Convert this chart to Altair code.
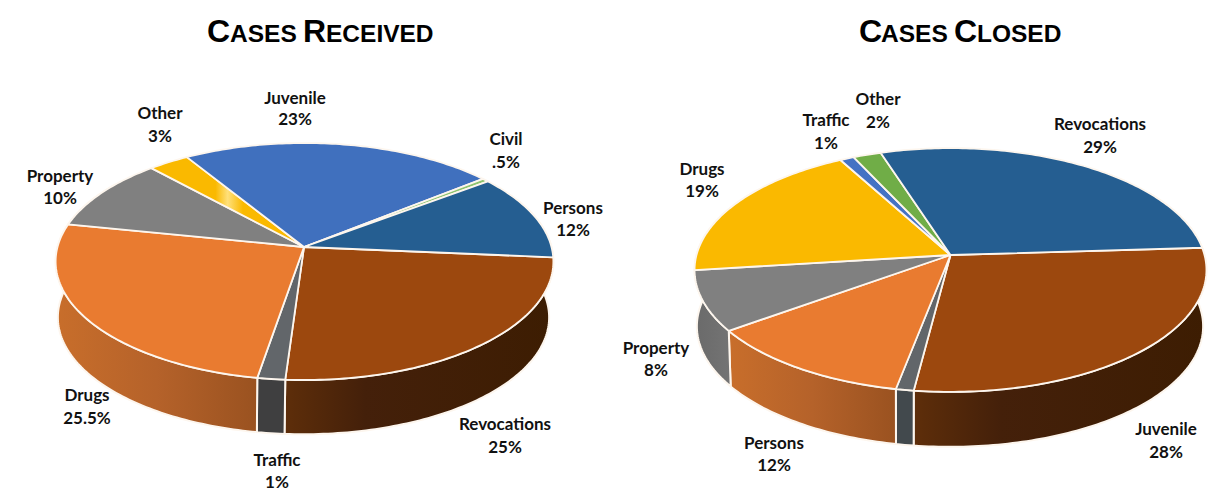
import math
import altair as alt
import pandas as pd

# ---- values ----
left_categories = ["Revocations", "Traffic", "Drugs", "Property", "Other", "Juvenile", "Civil", "Persons"]
left_labels = ["25%", "1%", "25.5%", "10%", "3%", "23%", ".5%", "12%"]
left_values = [24.7, 1.6, 25.5, 10, 3, 23, 0.5, 11.7]
right_categories = ["Juvenile", "", "Persons", "Property", "Drugs", "Traffic", "Other", "Revocations"]
right_labels = ["28%", "", "12%", "8%", "19%", "1%", "2%", "29%"]
right_values = [28, 1, 12, 8, 19, 1, 2, 29]

# ---- styles ----
BROWN, ORANGE, GREY = "#9c480e", "#e97b30", "#808080"
YELLOW, GREEN, BLUE, NAVY = "#fab900", "#70ad47", "#4070be", "#255e91"
left_colors = [BROWN, "#62666a", ORANGE, GREY, YELLOW, BLUE, "#8fc46f", NAVY]
right_colors = [BROWN, "#62666a", ORANGE, GREY, YELLOW, "#4472c4", GREEN, NAVY]
WALL_BROWN = [(0, "#5e2e0a"), (0.3, "#44200a"), (1, "#3d1d02")]
WALL_ORANGE = [(0, "#c86e2b"), (0.5, "#b5622a"), (1, "#9a5220")]
WALL_GREY = [(0, "#6a6a6a"), (1, "#7b7b7b")]
left_walls = {0: WALL_BROWN, 1: [(0, "#3f3f40"), (1, "#3f3f40")], 2: WALL_ORANGE}
right_walls = {0: WALL_BROWN, 1: [(0, "#42494d"), (1, "#42494d")], 2: WALL_ORANGE, 3: WALL_GREY}

# pie geometry in page pixels: apex, half width, near/far radii, start angle, wall depth
left_pie = dict(cx=304.5, cy=247, a=247, b=116.7, k=0.1224, start=5, depth=56, dx=-1, f=0.987)
right_pie = dict(cx=950.5, cy=255, a=254, b=120, k=0.123, start=-3.5, depth=56.5, dx=-0.5, f=0.989)
M = 8  # page margin


def project(p, deg, bottom=False):
    t = math.radians(deg)
    c, s = math.cos(t), math.sin(t)
    d = 1 - p["k"] * s
    f = p["f"] if bottom else 1.0
    return [p["cx"] - M + f * p["a"] * c / d + (p["dx"] if bottom else 0),
            p["cy"] - M + f * p["b"] * s / d + (p["depth"] if bottom else 0)]


def arc(p, t0, t1, bottom=False):
    n = max(2, int(abs(t1 - t0)) + 1)
    return [project(p, t0 + (t1 - t0) * i / n, bottom) for i in range(n + 1)]


def feature(points):
    ring = points + [points[0]]
    return {"type": "Feature", "properties": {}, "geometry": {"type": "Polygon", "coordinates": [ring]}}


def shape(points, fill, sw):
    return alt.Chart(alt.Data(values=[feature(points)])).mark_geoshape(
        fill=fill, stroke="#fdf6ee", strokeWidth=sw, strokeJoin="round"
    ).project(type="identity", scale=1, translate=[0, 0])


def linear(stops):
    return alt.Gradient(gradient="linear", x1=0, x2=1, y1=0, y2=0,
                        stops=[alt.GradientStop(offset=o, color=c) for o, c in stops])


def pie_layers(values, colors, walls, p, highlight=None):
    bounds = [p["start"]]
    for v in values:
        bounds.append(bounds[-1] + v * 3.6)
    out = []
    for i, stops in walls.items():
        t0, t1 = bounds[i], bounds[i + 1]
        if i == 0:
            t0 -= 30
        if 150 < t1 < 200:
            t1 = 215
        pts = arc(p, t0, t1) + arc(p, t0, t1, True)[::-1]
        out.append(shape(pts, linear(stops), 2))
    for i, col in enumerate(colors):
        pts = [[p["cx"] - M - (0.5 if p["cx"] < 600 else 0), p["cy"] - M]] + arc(p, bounds[i], bounds[i + 1])
        fill = col
        if highlight == i:
            fill = linear([(0, col), (0.42, col), (0.5, "#ffe07a"), (0.6, col), (1, col)])
        out.append(shape(pts, fill, 1.8))
    return out


# label anchors (page pixels, centre of the name line / value line)
left_anchor = {"Revocations": (505, 425, 448), "Traffic": (277, 461, 483), "Drugs": (87, 396, 419),
               "Property": (60, 177, 199), "Other": (160, 114, 137), "Juvenile": (295, 99, 120),
               "Civil": (506, 140, 163), "Persons": (573, 209, 231)}
right_anchor = {"Juvenile": (1166, 430, 453), "Persons": (774, 444, 466), "Property": (656, 349, 371),
                "Drugs": (702, 170, 192), "Traffic": (826, 121, 144), "Other": (878, 100, 123),
                "Revocations": (1100, 125, 148)}

rows = []
for cats, labs, anchor in [(left_categories, left_labels, left_anchor),
                           (right_categories, right_labels, right_anchor)]:
    for c, v in zip(cats, labs):
        if c:
            x, y1, y2 = anchor[c]
            rows.append({"x": x - M, "y": y1 - M, "t": c})
            rows.append({"x": x - M, "y": y2 - M, "t": v})

labels = alt.Chart(pd.DataFrame(rows)).mark_text(
    font="Lato", fontWeight="bold", fontSize=17, color="#111111", align="center", baseline="middle"
).encode(x=alt.X("x:Q", scale=None), y=alt.Y("y:Q", scale=None), text="t:N")

# small-caps titles, built from big and small runs
title_rows = [
    {"x": 207, "t": "C", "s": "big"}, {"x": 230, "t": "ASES", "s": "small"},
    {"x": 303, "t": "R", "s": "big"}, {"x": 326, "t": "ECEIVED", "s": "small"},
    {"x": 859, "t": "C", "s": "big"}, {"x": 881, "t": "ASES", "s": "small"},
    {"x": 954, "t": "C", "s": "big"}, {"x": 977, "t": "LOSED", "s": "small"},
]
for r in title_rows:
    r["x"] -= M
    r["y"] = 42 - M
tdf = pd.DataFrame(title_rows)


def title_layer(kind, size):
    return alt.Chart(tdf[tdf.s == kind]).mark_text(
        font="Liberation Sans", fontWeight="bold", fontSize=size, color="#000000",
        align="left", baseline="alphabetic"
    ).encode(x=alt.X("x:Q", scale=None), y=alt.Y("y:Q", scale=None), text="t:N")


layers = (pie_layers(left_values, left_colors, left_walls, left_pie, highlight=4)
          + pie_layers(right_values, right_colors, right_walls, right_pie)
          + [labels, title_layer("big", 32), title_layer("small", 24.5)])

chart = alt.layer(*layers).properties(
    width=1205, height=483, padding=0, autosize=alt.AutoSizeParams(type="none")
).configure_view(stroke=None)

chart.save("out.html", embed_options={"renderer": "svg", "actions": False})
